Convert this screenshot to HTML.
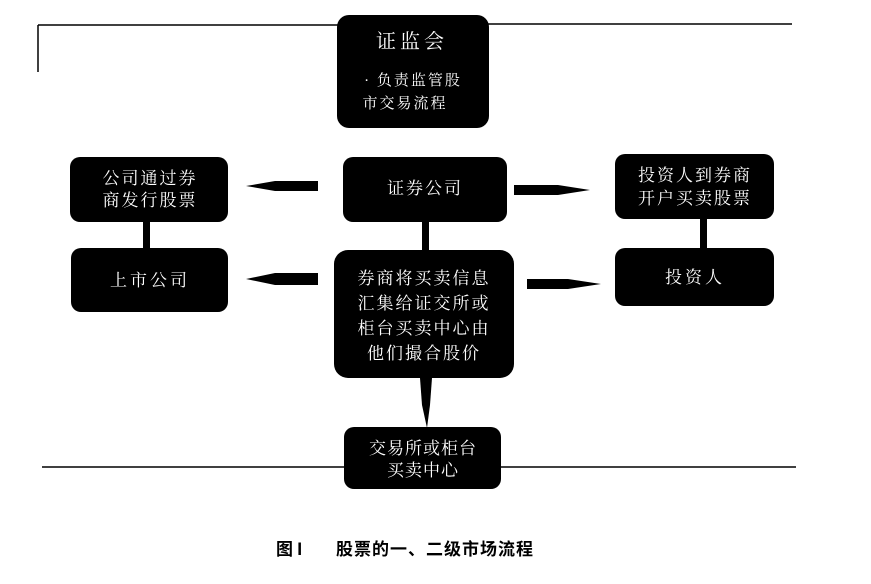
<!DOCTYPE html>
<html><head><meta charset="utf-8"><style>
body{margin:0;background:#fff;width:871px;height:579px;overflow:hidden}
svg text{font-family:"Liberation Serif","Noto Serif CJK SC","Noto Sans CJK SC",serif;fill:#fff}
</style></head><body>
<svg width="871" height="579" viewBox="0 0 871 579" xmlns="http://www.w3.org/2000/svg">
<g stroke="#000" stroke-width="1.5">
<line x1="38" y1="25" x2="340" y2="25"/><line x1="38" y1="25" x2="38" y2="72"/>
<line x1="485" y1="24" x2="792" y2="24"/>
<line x1="42" y1="467" x2="346" y2="467"/><line x1="500" y1="467" x2="796" y2="467"/>
</g>
<g fill="#000">
<rect x="337" y="15" width="152" height="113" rx="12"/>
<rect x="70" y="157" width="158" height="65" rx="10"/>
<rect x="71" y="248" width="157" height="64" rx="10"/>
<rect x="343" y="157" width="164" height="65" rx="10"/>
<rect x="334" y="250" width="180" height="128" rx="14"/>
<rect x="344" y="427" width="157" height="62" rx="10"/>
<rect x="615" y="154" width="159" height="65" rx="10"/>
<rect x="615" y="248" width="159" height="58" rx="10"/>
<rect x="143" y="220" width="7" height="30"/>
<rect x="700" y="217" width="7" height="33"/>
<rect x="422" y="220" width="7" height="32"/>
<polygon points="318,181 275,181 246,186 275,191 318,191"/>
<polygon points="318,273 275,273 246,279 275,285 318,285"/>
<polygon points="514,185 558,185 590,190 558,195 514,195"/>
<polygon points="527,279 568,279 601,284 568,289 527,289"/>
<polygon points="420,378 432,378 430,405 427,428 422,405"/>
</g>
<g font-size="17" text-anchor="middle">
<text x="412" y="48" font-size="20" letter-spacing="4">证监会</text>
<text x="413" y="85" font-size="15" letter-spacing="2">· 负责监管股</text>
<text x="405" y="108" font-size="15" letter-spacing="2">市交易流程</text>
<text x="150" y="184" letter-spacing="2">公司通过券</text>
<text x="150" y="206" letter-spacing="2">商发行股票</text>
<text x="150" y="286" letter-spacing="3">上市公司</text>
<text x="425" y="194" letter-spacing="2">证券公司</text>
<text x="424" y="284" letter-spacing="2">券商将买卖信息</text>
<text x="424" y="309" letter-spacing="2">汇集给证交所或</text>
<text x="424" y="334" letter-spacing="2">柜台买卖中心由</text>
<text x="424" y="359" letter-spacing="2">他们撮合股价</text>
<text x="423" y="454" letter-spacing="1">交易所或柜台</text>
<text x="423" y="476" letter-spacing="1">买卖中心</text>
<text x="695" y="181" letter-spacing="2">投资人到券商</text>
<text x="695" y="204" letter-spacing="2">开户买卖股票</text>
<text x="695" y="283" letter-spacing="3">投资人</text>
</g>
<text x="276" y="555" font-size="17" font-weight="bold" style="fill:#000;font-family:'Noto Sans CJK SC',sans-serif">图 I</text>
<text x="336" y="555" font-size="17" font-weight="bold" letter-spacing="1" style="fill:#000;font-family:'Noto Sans CJK SC',sans-serif">股票的一、二级市场流程</text>
</svg>
</body></html>
